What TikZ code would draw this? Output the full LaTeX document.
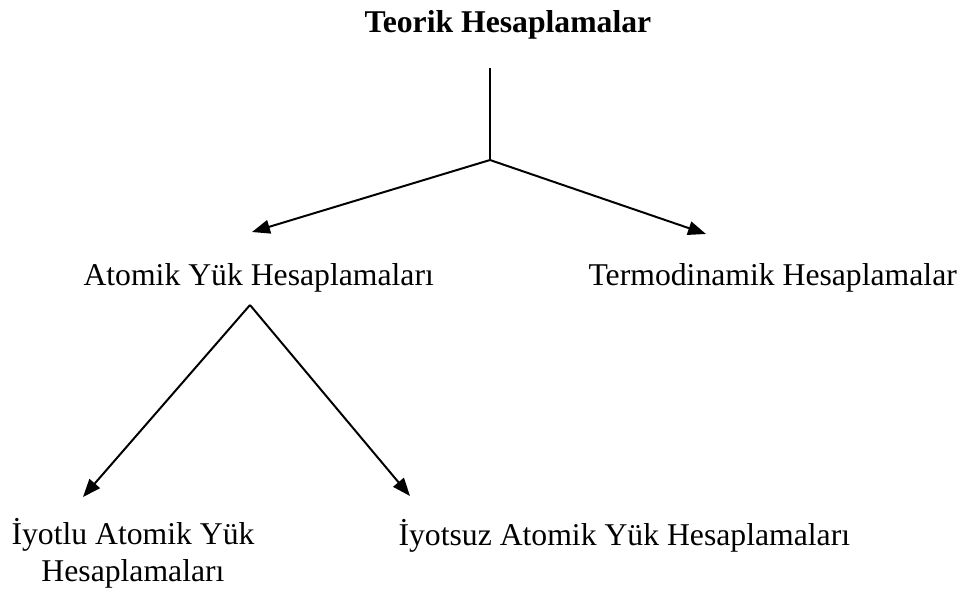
\documentclass[tikz,border=0pt]{standalone}
\usepackage{fontspec}
\setmainfont{Liberation Serif}
\usetikzlibrary{arrows.meta}

\begin{document}
\begin{tikzpicture}[x=0.3786pt,y=-0.3786pt]
      \tikzstyle{item}=[inner sep=0pt,anchor=base west,font=\fontsize{12}{13.8}\selectfont]
      \tikzstyle{edge}=[line width=0.75pt]
      \tikzstyle{arrow}=[edge,-{Triangle[length=6.8pt,width=5.2pt]}]
      \useasboundingbox (0,0) rectangle (967,591);
      \node[item,font=\fontsize{12}{13.8}\selectfont\bfseries] (top) at (364,32) {Teorik Hesaplamalar};
      \node[item] (atom) at (83,285) {Atomik Yük Hesaplamaları};
      \node[item] (termo) at (588,285) {Termodinamik Hesaplamalar};
      \node[item,anchor=north,align=center] (iyotlu) at (133,518) {İyotlu Atomik Yük\\Hesaplamaları};
      \node[item] (iyotsuz) at (398,545) {İyotsuz Atomik Yük Hesaplamaları};
      % stem under the title, then the two branches
      \coordinate (stem) at (490,68);
      \coordinate (split) at (490,160);
      \coordinate (fork) at (250,305);
      \coordinate (toatom) at (252,232);
      \coordinate (totermo) at (706,234);
      \coordinate (toiyotlu) at (83,497);
      \coordinate (toiyotsuz) at (410,496);
      \draw[edge] (stem) -- (split);
      \draw[arrow] (split) -- (toatom);
      \draw[arrow] (split) -- (totermo);
      \draw[arrow] (fork) -- (toiyotlu);
      \draw[arrow] (fork) -- (toiyotsuz);
\end{tikzpicture}
\end{document}
